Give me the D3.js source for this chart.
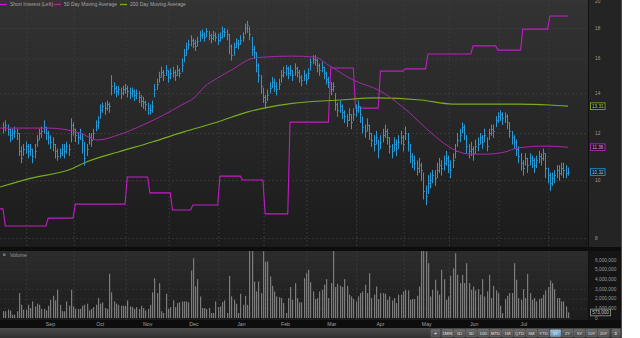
<!DOCTYPE html>
<html>
<head>
<meta charset="utf-8">
<script src="https://cdn.jsdelivr.net/npm/d3@7"></script>
<style>
  body { margin: 0; background: #fff; }
  svg { display: block; font-family: "Liberation Sans", Arial, sans-serif; }
</style>
</head>
<body>
<svg id="chart" width="640" height="338"></svg>
<script>
// ---- data ----
const startDate = "2014-08-15";
const holidays = ["2014-09-01","2014-11-27","2014-12-25","2015-01-01","2015-01-19","2015-02-16","2015-04-03","2015-05-25","2015-07-03"];

const closes = [
  12.3,12.4,12.2,11.9,12.0,12.1,12.0,11.2,10.9,11.3, 11.4,11.2,11.3,11.0,11.2,11.7,12.0,12.1,12.3,
  12.0,11.8,11.6,11.5,11.2,11.0,11.1,11.3,11.2,11.4, 11.3,12.4,12.2,11.9,11.8,12.0,11.7,10.9,11.3,11.8,
  11.7,12.0,12.4,12.5,13.1,13.3,13.2,13.4,13.3, 14.4,14.3,14.1,14.2,14.0,14.2,14.3,14.1,14.0,14.1,
  13.9,14.0,13.8,13.6,13.5,13.4,13.2,13.1,13.3,14.2, 14.5,14.9,15.2,15.0,15.3,14.9,15.1,15.2,15.0,
  15.3,15.1,15.6,16.2,16.6,16.9,17.2,17.0,16.8,17.1, 17.5,17.6,17.4,17.8,17.5,17.3,17.5,17.4,17.2,17.4,
  17.8,17.7,17.6,16.8,16.2,16.7,17.0,16.9,17.2, 17.4,18.0,18.2,17.6,16.6,16.4,15.6,15.0,14.4,13.8,
  13.5,13.9,14.3,14.6,14.4,14.2,14.5,15.0,15.2, 15.4,15.1,15.3,15.0,15.4,15.2,14.9,14.7,15.0,14.8,
  15.1,15.8,16.0,15.9,15.6,15.3,15.5,15.1,14.8,14.6, 14.2,14.4,13.4,13.1,13.3,13.0,12.8,12.6,12.9,
  12.5,12.9,13.1,13.3,12.9,12.3,12.1,12.4,12.0,11.7, 11.5,11.8,11.3,11.6,11.9,12.1,11.8,11.4,11.2,11.5,
  11.3,11.6,11.8,11.5,12.0,11.6,11.0,10.8,10.7, 10.5,10.6,10.4,9.6,9.4,9.9,10.0,10.2,10.1,10.4,
  10.6,10.5,10.7,10.9,10.6,10.4,10.8,11.2,11.7,11.9, 12.3,12.0,11.4,11.2,11.3,11.1,11.4,11.5,11.8,
  11.6,11.9,11.4,12.0,12.2,12.1,12.6,12.8,12.9,12.7, 12.8,12.5,12.1,11.8,11.6,11.3,11.0,10.7,10.5,10.9,
  10.6,10.9,10.8,10.6,10.8,11.0,10.9,11.1,10.5, 10.2,9.9,10.1,10.2,10.4,10.3,10.5,10.4,10.3,10.32
];
const highs = [
  12.5,12.6,12.4,12.2,12.2,12.3,12.2,12.0,11.4,11.5, 11.6,11.5,11.5,11.3,11.5,11.9,12.2,12.3,12.6,
  12.3,12.1,11.9,11.8,11.5,11.3,11.3,11.5,11.5,11.6, 11.5,12.7,12.5,12.2,12.0,12.2,12.0,11.6,11.5,12.0,
  12.0,12.2,12.6,12.8,13.4,13.5,13.5,13.6,13.5, 15.0,14.6,14.4,14.4,14.3,14.4,14.5,14.4,14.3,14.3,
  14.2,14.2,14.1,13.9,13.8,13.6,13.5,13.4,13.6,14.5, 14.8,15.2,15.5,15.3,15.6,15.3,15.4,15.5,15.3,
  15.6,15.4,16.0,16.6,17.0,17.2,17.5,17.3,17.2,17.4, 17.8,17.9,17.7,18.0,17.8,17.6,17.8,17.7,17.6,17.7,
  18.1,18.0,17.9,17.6,16.9,17.0,17.3,17.2,17.5, 17.7,18.3,18.5,18.1,17.4,16.8,16.4,15.7,15.0,14.3,
  13.9,14.2,14.6,14.9,14.8,14.6,14.8,15.3,15.5, 15.6,15.5,15.6,15.3,15.7,15.5,15.3,15.0,15.3,15.1,
  15.4,16.0,16.2,16.2,16.0,15.7,15.8,15.5,15.2,14.9, 14.6,14.6,14.0,13.5,13.6,13.4,13.1,12.9,13.2,
  12.9,13.2,13.4,13.6,13.3,12.8,12.4,12.7,12.4,12.0, 11.9,12.1,11.7,11.9,12.2,12.4,12.2,11.8,11.5,11.8,
  11.7,11.9,12.1,11.9,12.3,12.0,11.5,11.1,11.0, 10.8,10.9,10.7,10.3,9.8,10.2,10.3,10.4,10.4,10.7,
  10.9,10.8,11.0,11.2,11.0,10.8,11.1,11.5,12.0,12.2, 12.5,12.4,11.9,11.5,11.6,11.4,11.7,11.8,12.0,
  11.9,12.2,11.8,12.2,12.4,12.4,12.8,13.0,13.1,13.0, 13.0,12.9,12.5,12.1,11.9,11.7,11.4,11.1,10.8,11.1,
  10.9,11.1,11.0,10.9,11.0,11.2,11.1,11.3,11.1, 10.5,10.3,10.3,10.4,10.6,10.6,10.7,10.7,10.6,10.5
];
const lows = [
  12.0,12.1,11.9,11.6,11.7,11.8,11.7,11.0,10.7,11.0, 11.1,10.9,11.0,10.7,10.9,11.4,11.7,11.8,12.0,
  11.7,11.5,11.3,11.2,10.9,10.8,10.9,11.0,10.9,11.1, 11.0,11.6,11.9,11.6,11.5,11.7,11.1,10.6,11.0,11.5,
  11.4,11.7,12.1,12.2,12.7,13.0,12.9,13.1,13.0, 13.9,14.0,13.8,13.9,13.7,13.9,14.0,13.8,13.7,13.8,
  13.6,13.7,13.5,13.3,13.2,13.1,12.9,12.9,13.0,13.8, 14.2,14.6,14.9,14.7,15.0,14.6,14.8,14.9,14.7,
  15.0,14.9,15.2,15.8,16.2,16.6,16.8,16.7,16.5,16.8, 17.1,17.3,17.1,17.4,17.2,17.0,17.2,17.1,16.9,17.1,
  17.3,17.4,17.2,16.3,15.9,16.2,16.7,16.6,16.9, 17.1,17.6,17.7,17.2,16.2,16.0,15.2,14.6,14.0,13.5,
  13.2,13.6,14.0,14.3,14.1,13.9,14.2,14.6,14.9, 15.0,14.8,15.0,14.7,15.0,14.9,14.6,14.4,14.7,14.5,
  14.8,15.3,15.7,15.6,15.2,15.0,15.2,14.8,14.5,14.3, 13.9,14.1,13.1,12.8,13.0,12.7,12.5,12.3,12.6,
  12.2,12.6,12.8,13.0,12.5,12.0,11.8,12.1,11.7,11.4, 11.2,11.5,10.9,11.3,11.6,11.8,11.5,11.1,10.9,11.2,
  11.0,11.3,11.5,11.2,11.7,11.2,10.7,10.5,10.4, 10.2,10.3,10.0,9.3,9.1,9.5,9.7,9.9,9.8,10.1,
  10.3,10.2,10.4,10.6,10.3,10.1,10.5,10.9,11.4,11.6, 12.0,11.7,11.1,10.9,11.0,10.8,11.1,11.2,11.5,
  11.3,11.6,11.2,11.7,11.9,11.8,12.3,12.5,12.6,12.4, 12.5,12.2,11.8,11.5,11.3,11.0,10.7,10.4,10.2,10.6,
  10.3,10.6,10.5,10.3,10.5,10.7,10.6,10.8,10.1, 9.9,9.6,9.8,9.9,10.1,10.0,10.2,10.1,10.1,10.2
];
// volume in millions of shares
const volumes = [
  0.7,0.7,0.86,0.76,0.34,0.34,0.7,2.58,1.37, 0.86,0.86,1.37,1.03,1.72,1.2,1.48,1.37,0.93,0.93,
  0.79,1.27,1.89,2.3,1.82,2.92,1.37, 0.7,0.7,1.72,1.27,2.92,1.2,0.93,0.93,0.93,1.27,1.37,1.48,0.79,0.93,1.13,1.37,
  2.06,1.48,1.62,1.03,0.93,4.57,2.65,1.72,1.48,1.37,1.27,1.27,1.27,
  1.82,1.2,1.13,0.93,1.13,0.93,1.27,1.03,0.79,0.93,1.37,2.65,4.12,2.58,3.61,0.7,0.52,
  2.51,0.93,1.13,1.82,1.13,1.55,1.62,1.72,1.72,1.72,1.62,4.91,6.19,3.26,4.02,2.23,1.03,
  1.03,0.93,1.03,0.52,0.52,1.72,1.13,1.2,1.65,1.82,0.52,4.36,2.23,
  1.89,1.48,0.52,2.51,1.37,2.3,1.37,7.5,7.2,3.78,2.75,3.78,2.58,6.9,5.84,5.84,4.3,
  3.33,2.75,2.23,2.16,2.06,1.55,0.52,2.06,3.2,1.89,3.61,
  2.06,1.62,1.62,4.12,4.64,4.98,3.71,2.75,
  1.96,2.06,2.75,2.92,3.44,4.02,2.06,3.61,7.0,3.2,3.54,3.33,3.2,4.02,3.33,2.41,2.23,
  1.96,1.72,2.23,2.58,2.75,3.44,2.58,4.64,2.06,2.41,3.26,1.96,2.58,2.58,2.51,1.89,
  2.23,1.82,2.06,1.55,2.41,2.41,2.75,2.92,2.85,1.89,1.96,1.96,2.3,3.26,
  7.4,7.1,6.9,5.67,2.23,2.92,3.95,2.85,2.41,4.98,4.02,1.89,2.23,4.36,5.15,6.7,4.47,3.61,4.47,3.61,5.67,3.61,2.92,3.26,
  2.85,2.99,2.41,4.02,2.23,2.75,4.47,2.06,3.33,2.85,2.58,
  1.27,0.52,1.96,2.3,2.58,2.58,5.67,3.95,2.06,1.89,2.99,2.06,4.57,2.58,
  1.89,2.06,1.72,1.96,2.06,2.41,2.85,3.2,3.88,3.61,2.99,2.06,2.06,
  1.72,1.72,1.2,0.573
];

const ma50Dates = ["2014-08-15","2014-09-15","2014-10-03","2014-10-15","2014-10-28","2014-11-12","2014-11-25","2014-12-08","2014-12-16","2014-12-22","2014-12-31","2015-01-09","2015-01-26","2015-02-02","2015-02-19","2015-03-05","2015-03-13","2015-03-30","2015-04-16","2015-05-05","2015-05-15","2015-05-27","2015-06-02","2015-06-12","2015-06-23","2015-07-06","2015-07-14","2015-07-30","2015-08-13"];
const ma50 = [12.23,12.23,12.00,11.68,11.91,12.38,12.86,13.37,13.79,14.33,14.84,15.30,16.03,16.09,16.15,16.09,15.60,14.72,14.11,12.96,12.14,11.54,11.28,11.06,11.06,11.15,11.33,11.41,11.36];

const ma200Dates = ["2014-08-15","2014-09-04","2014-09-26","2014-10-09","2014-10-28","2014-11-18","2014-12-09","2014-12-31","2015-01-21","2015-02-02","2015-02-19","2015-03-20","2015-04-14","2015-05-12","2015-06-02","2015-06-23","2015-07-14","2015-08-03","2015-08-13"];
const ma200 = [9.74,10.09,10.40,10.77,11.15,11.59,12.05,12.52,13.01,13.22,13.45,13.63,13.74,13.63,13.42,13.42,13.42,13.37,13.31];

// short interest (millions of shares) from each settlement date
const siDates = ["2014-08-15","2014-08-18","2014-09-15","2014-10-01","2014-11-03","2014-11-17","2014-12-02","2014-12-15","2015-01-02","2015-01-16","2015-02-02","2015-02-18","2015-03-16","2015-03-31","2015-04-16","2015-05-01","2015-05-15","2015-06-15","2015-06-30","2015-07-16","2015-08-03"];
const siValues = [2.54,1.93,2.21,2.71,3.68,3.11,2.5,2.68,3.71,3.57,2.36,5.64,7.57,6.14,7.46,7.54,8.07,8.36,8.21,8.96,9.43];

const priceTicks = [8,10,12,14,16,18,20];
const volumeTicks = [0,1,2,3,4,5,6];
const rangeButtons = ["1MIN","1D","5D","10D","MTD","1M","QTD","6M","YTD","1Y","2Y","5Y","10Y","20Y"];
const activeRange = "1Y";

// ---- trading calendar ----
const parse = d3.timeParse("%Y-%m-%d");
const fmt = d3.timeFormat("%Y-%m-%d");
const days = [];
for (let d = parse(startDate); days.length < closes.length; d = d3.timeDay.offset(d, 1)) {
  if (d.getDay() === 0 || d.getDay() === 6 || holidays.includes(fmt(d))) continue;
  days.push(d);
}
const bisectDay = d3.bisector(d => d).left;
const session = s => Math.min(bisectDay(days, parse(s)), days.length - 1);

// ---- layout ----
const plotW = 588, axisW = 34;
const priceTop = 0, priceBottom = 247;
const volTop = 251, volBottom = 320;

const svg = d3.select("#chart");
const defs = svg.append("defs");

function vGrad(id, top, bottom) {
  const g = defs.append("linearGradient").attr("id", id)
    .attr("x1", 0).attr("y1", 0).attr("x2", 0).attr("y2", 1);
  g.append("stop").attr("offset", "0%").attr("stop-color", top);
  g.append("stop").attr("offset", "100%").attr("stop-color", bottom);
}
vGrad("priceBg", "#333333", "#1b1b1b");
vGrad("volBg", "#2c2c2c", "#1c1c1c");
vGrad("barBg", "#4a4a4a", "#303030");
vGrad("btnBg", "#6a6a6a", "#4a4a4a");
vGrad("btnOn", "#9ec4e6", "#5f8fbb");

defs.append("clipPath").attr("id", "clipPrice")
  .append("rect").attr("x", 0).attr("y", priceTop).attr("width", plotW).attr("height", priceBottom - priceTop);
defs.append("clipPath").attr("id", "clipVol")
  .append("rect").attr("x", 0).attr("y", volTop).attr("width", plotW).attr("height", volBottom - volTop);

// panels
svg.append("rect").attr("x", 0).attr("y", 0).attr("width", plotW + axisW).attr("height", 338).attr("fill", "#0d0d0d");
svg.append("rect").attr("x", 0).attr("y", priceTop).attr("width", plotW).attr("height", priceBottom - priceTop).attr("fill", "url(#priceBg)");
svg.append("rect").attr("x", 0).attr("y", volTop).attr("width", plotW).attr("height", volBottom - volTop).attr("fill", "url(#volBg)");
svg.append("rect").attr("x", plotW + 1).attr("y", 0).attr("width", axisW - 2).attr("height", priceBottom).attr("fill", "#242424");
svg.append("rect").attr("x", plotW + 1).attr("y", volTop).attr("width", axisW - 2).attr("height", volBottom - volTop).attr("fill", "#151515");
svg.append("rect").attr("x", 0).attr("y", 328).attr("width", plotW + axisW).attr("height", 10).attr("fill", "url(#barBg)");

// ---- scales ----
const x = d3.scaleLinear().domain([0, closes.length - 1]).range([3, 568]);
const y = d3.scaleLog().domain([8, 18]).range([238, 28]);
const yVol = d3.scaleLinear().domain([0, 6]).range([318, 260]);
const ySI = d3.scaleLinear().domain([0, 10]).range([280, 0]);

// month boundaries
const monthStarts = [];
days.forEach((d, i) => {
  if (i > 0 && d.getMonth() !== days[i - 1].getMonth()) monthStarts.push(i);
});

// grid
const grid = svg.append("g").attr("stroke", "#3d3d3d").attr("stroke-dasharray", "2,2").attr("stroke-width", 0.8);
grid.selectAll(".hp").data(priceTicks).join("line")
  .attr("x1", 0).attr("x2", plotW).attr("y1", d => y(d) + 0.5).attr("y2", d => y(d) + 0.5);
grid.selectAll(".vp").data(monthStarts).join("line")
  .attr("x1", d => x(d - 0.5)).attr("x2", d => x(d - 0.5)).attr("y1", priceTop).attr("y2", priceBottom);
grid.selectAll(".vv").data(monthStarts).join("line")
  .attr("x1", d => x(d - 0.5)).attr("x2", d => x(d - 0.5)).attr("y1", volTop).attr("y2", volBottom);
grid.selectAll(".hv").data(volumeTicks.filter(d => d > 0)).join("line")
  .attr("x1", 0).attr("x2", plotW).attr("y1", d => yVol(d) + 0.5).attr("y2", d => yVol(d) + 0.5)
  .attr("stroke", "#333");

// ---- price panel ----
const price = svg.append("g").attr("clip-path", "url(#clipPrice)");

const siPoints = [];
siDates.forEach((s, k) => {
  const i = session(s);
  if (k > 0) siPoints.push([Math.max(i - 1, 0), siValues[k - 1]]);
  siPoints.push([i, siValues[k]]);
});
siPoints.push([closes.length - 1, siValues[siValues.length - 1]]);
siPoints.unshift([-1.3, siValues[0]]);

price.append("path")
  .attr("fill", "none").attr("stroke", "#c21cc6").attr("stroke-width", 1.1)
  .attr("d", d3.line().x(d => x(d[0])).y(d => ySI(d[1]))(siPoints));

price.append("path")
  .attr("fill", "none").attr("stroke", "#7aac1c").attr("stroke-width", 1.2)
  .attr("d", d3.line().curve(d3.curveMonotoneX)
    .x((d, i) => x(i === 0 ? -1.3 : session(d))).y((d, i) => y(ma200[i]))(ma200Dates));

const bars = price.append("g").attr("stroke", "#2a98d2").attr("stroke-width", 1);
bars.selectAll("line.hl").data(closes).join("line")
  .attr("x1", (d, i) => Math.round(x(i)) + 0.5).attr("x2", (d, i) => Math.round(x(i)) + 0.5)
  .attr("y1", (d, i) => y(highs[i])).attr("y2", (d, i) => y(lows[i]) + 0.5);
bars.selectAll("line.cl").data(closes).join("line")
  .attr("x1", (d, i) => Math.round(x(i)) + 0.5).attr("x2", (d, i) => Math.round(x(i)) + 1.8)
  .attr("y1", d => Math.round(y(d)) + 0.5).attr("y2", d => Math.round(y(d)) + 0.5);

price.append("path")
  .attr("fill", "none").attr("stroke", "#a42aa8").attr("stroke-width", 1)
  .attr("d", d3.line().curve(d3.curveMonotoneX)
    .x((d, i) => x(i === 0 ? -1.3 : session(d))).y((d, i) => y(ma50[i]))(ma50Dates));

// ---- volume panel ----
svg.append("g").attr("clip-path", "url(#clipVol)")
  .selectAll("rect").data(volumes).join("rect")
  .attr("x", (d, i) => Math.round(x(i)))
  .attr("width", 1.2)
  .attr("y", d => yVol(d))
  .attr("height", d => yVol(0) - yVol(d))
  .attr("fill", "#7c7c7c");

svg.append("rect").attr("x", 3).attr("y", 253.5).attr("width", 2.5).attr("height", 2.5).attr("fill", "#777");
svg.append("text").attr("x", 10).attr("y", 257).attr("font-size", 5).attr("fill", "#9a9a9a").text("Volume");

// ---- legend ----
const legendItems = [
  { label: "Short Interest (Left)", color: "#c21cc6", x: 0 },
  { label: "50 Day Moving Average", color: "#a42aa8", x: 54 },
  { label: "200 Day Moving Average", color: "#7aac1c", x: 120 }
];
const legend = svg.append("g");
legend.selectAll("line").data(legendItems).join("line")
  .attr("x1", d => d.x).attr("x2", d => d.x + 7).attr("y1", 4.5).attr("y2", 4.5)
  .attr("stroke", d => d.color).attr("stroke-width", 1.3);
legend.selectAll("text").data(legendItems).join("text")
  .attr("x", d => d.x + 10).attr("y", 6.3)
  .attr("font-size", 5).attr("fill", "#a5a5a5")
  .text(d => d.label);

// ---- right axes ----
svg.append("g").selectAll("text").data(priceTicks).join("text")
  .attr("x", 595).attr("y", d => y(d) + 1.8)
  .attr("font-size", 4.8).attr("fill", "#9a9a9a")
  .text(d => d);

svg.append("g").selectAll("text").data(volumeTicks).join("text")
  .attr("x", 595).attr("y", d => yVol(d) + 1.8)
  .attr("font-size", 4.8).attr("fill", "#9a9a9a")
  .text(d => d3.format(",")(d * 1e6));

// last value boxes
const lastValues = [
  { v: ma200[ma200.length - 1], color: "#7aac1c", text: "#b6dc6a", sc: y, f: d3.format(".2f") },
  { v: ma50[ma50.length - 1], color: "#b52cba", text: "#e4a0e8", sc: y, f: d3.format(".2f") },
  { v: closes[closes.length - 1], color: "#2a98d2", text: "#9ed6f2", sc: y, f: d3.format(".2f") },
  { v: volumes[volumes.length - 1], color: "#8a8a8a", text: "#c8c8c8", sc: yVol, f: d => d3.format(",")(Math.round(d * 1e6)) }
];
const boxes = svg.append("g").selectAll("g").data(lastValues).join("g")
  .attr("transform", d => `translate(590,${d.sc(d.v)})`);
boxes.append("rect")
  .attr("x", 0.5).attr("y", -3.3).attr("height", 6.6)
  .attr("width", (d, i) => i === 3 ? 20 : 14.5)
  .attr("fill", "#141414").attr("stroke", d => d.color).attr("stroke-width", 0.9);
boxes.append("text")
  .attr("x", (d, i) => i === 3 ? 10.5 : 7.75).attr("y", 1.7)
  .attr("text-anchor", "middle").attr("font-size", 4.6)
  .attr("fill", d => d.text)
  .text(d => d.f(d.v));

// ---- month labels ----
const fmtMonth = d3.timeFormat("%b");
const monthLabels = monthStarts.slice(0, -1).map((s, k) => ({ s, e: monthStarts[k + 1] }));
svg.append("g").selectAll("text").data(monthLabels).join("text")
  .attr("x", d => x((d.s + d.e) / 2 - 0.5)).attr("y", 325.5)
  .attr("text-anchor", "middle").attr("font-size", 5.2).attr("fill", "#a0a0a0")
  .text(d => fmtMonth(days[d.s]));

// ---- range toolbar ----
const bx = d3.scaleBand().domain(rangeButtons).range([442, 609]).paddingInner(0.1);
const tb = svg.append("g");
tb.append("rect").attr("x", 431).attr("y", 329.5).attr("width", 9).attr("height", 7.5)
  .attr("rx", 0.8).attr("fill", "url(#btnBg)").attr("stroke", "#777").attr("stroke-width", 0.5);
tb.append("text").attr("x", 435.5).attr("y", 335.3).attr("text-anchor", "middle")
  .attr("font-size", 6).attr("fill", "#e6e6e6").text("+");
const btn = tb.selectAll("g.b").data(rangeButtons).join("g")
  .attr("transform", d => `translate(${bx(d)},329.5)`);
btn.append("rect").attr("width", bx.bandwidth()).attr("height", 7.5).attr("rx", 0.8)
  .attr("fill", d => d === activeRange ? "url(#btnOn)" : "url(#btnBg)")
  .attr("stroke", "#7a7a7a").attr("stroke-width", 0.5);
btn.append("text").attr("x", bx.bandwidth() / 2).attr("y", 5.4)
  .attr("text-anchor", "middle").attr("font-size", 4.2)
  .attr("fill", d => d === activeRange ? "#ffffff" : "#e2e2e2")
  .text(d => d);
tb.append("rect").attr("x", 612).attr("y", 329.5).attr("width", 8).attr("height", 7.5)
  .attr("rx", 0.8).attr("fill", "url(#btnBg)").attr("stroke", "#777").attr("stroke-width", 0.5);
tb.append("text").attr("x", 616).attr("y", 335.3).attr("text-anchor", "middle")
  .attr("font-size", 5).attr("fill", "#e6e6e6").text("≡");

// divider lines
svg.append("line").attr("x1", plotW + 0.5).attr("x2", plotW + 0.5).attr("y1", 0).attr("y2", volBottom)
  .attr("stroke", "#111");
svg.append("line").attr("x1", 621.5).attr("x2", 621.5).attr("y1", 0).attr("y2", 338)
  .attr("stroke", "#4a4a4a");
</script>
</body>
</html>
